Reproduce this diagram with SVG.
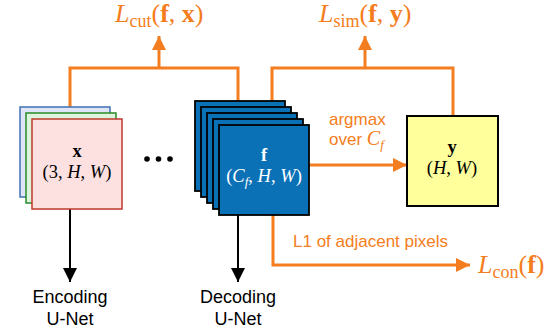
<svg xmlns="http://www.w3.org/2000/svg" width="556" height="333" viewBox="0 0 556 333">
<style>
.or{fill:none;stroke:#f47d20;stroke-width:3}
.bk{fill:none;stroke:#000;stroke-width:2}
.math{font-family:"Liberation Serif","Times New Roman",serif;font-size:18.5px}
.loss{font-family:"Liberation Serif","Times New Roman",serif;font-size:26px;fill:#f47d20}
.sub{font-size:18px}
.lbl{font-family:"Liberation Sans",Arial,sans-serif;font-size:18px}
.olbl{font-family:"Liberation Sans",Arial,sans-serif;font-size:17px;fill:#f47d20}
.fr{fill:#0b71b6;stroke:#000;stroke-width:1.8}
</style>
<defs>
<marker id="ao" markerUnits="userSpaceOnUse" markerWidth="14" markerHeight="14" viewBox="0 0 12 12" refX="12" refY="6" orient="auto">
<path d="M0,0 L12,6 L0,12 Z" fill="#f47d20"/>
</marker>
<marker id="ab" markerUnits="userSpaceOnUse" markerWidth="14" markerHeight="14" viewBox="0 0 12 12" refX="12" refY="6" orient="auto">
<path d="M0,0 L12,6 L0,12 Z" fill="#000"/>
</marker>
</defs>

<g id="connectors">
<path class="or" d="M70,107 V68 H238 V101"/>
<path class="or" d="M159,68 V36" marker-end="url(#ao)"/>
<path class="or" d="M272,101 V68 H453 V116"/>
<path class="or" d="M365,68 V36" marker-end="url(#ao)"/>
<path class="or" d="M309,165 H407" marker-end="url(#ao)"/>
<path class="or" d="M273,215 V265 H470" marker-end="url(#ao)"/>
<path class="bk" d="M70,209 V282" marker-end="url(#ab)"/>
<path class="bk" d="M238,215 V282" marker-end="url(#ab)"/>
</g>

<g id="node-x">
<rect x="20" y="107" width="90" height="90" fill="#dfe5f6" stroke="#3f72b5" stroke-width="1.5"/>
<rect x="26" y="113" width="90" height="90" fill="#dcf5dc" stroke="#2a8a2a" stroke-width="1.5"/>
<rect x="32" y="119" width="90" height="90" fill="#fde1e1" stroke="#c0392b" stroke-width="1.5"/>
<text class="math" x="77" y="157" text-anchor="middle" font-weight="bold">x</text>
<text class="math" x="77" y="178" text-anchor="middle">(3, <tspan font-style="italic">H</tspan>, <tspan font-style="italic">W</tspan>)</text>
</g>

<g id="dots">
<circle cx="147" cy="159" r="2.8"/>
<circle cx="158.5" cy="159" r="2.8"/>
<circle cx="170" cy="159" r="2.8"/>
</g>

<g id="node-f">
<rect class="fr" x="195" y="101" width="90" height="90"/>
<rect class="fr" x="201" y="107" width="90" height="90"/>
<rect class="fr" x="207" y="113" width="90" height="90"/>
<rect class="fr" x="213" y="119" width="90" height="90"/>
<rect class="fr" x="219" y="125" width="90" height="90"/>
<text class="math" x="264" y="161" text-anchor="middle" font-weight="bold" fill="#fff" font-size="19">f</text>
<text class="math" x="264" y="182" text-anchor="middle" fill="#fff">(<tspan font-style="italic">C</tspan><tspan font-style="italic" font-size="13" dy="4">f</tspan><tspan dy="-4">, </tspan><tspan font-style="italic">H</tspan>, <tspan font-style="italic">W</tspan>)</text>
</g>

<g id="node-y">
<rect x="407" y="116" width="91" height="90" fill="#ffff9c" stroke="#000" stroke-width="2"/>
<text class="math" x="452" y="153" text-anchor="middle" font-weight="bold">y</text>
<text class="math" x="452" y="174" text-anchor="middle">(<tspan font-style="italic">H</tspan>, <tspan font-style="italic">W</tspan>)</text>
</g>

<g id="labels">
<text class="loss" x="115" y="22"><tspan font-style="italic">L</tspan><tspan class="sub" dy="5">cut</tspan><tspan dy="-5">(</tspan><tspan font-weight="bold">f</tspan>, <tspan font-weight="bold">x</tspan>)</text>
<text class="loss" x="319" y="22"><tspan font-style="italic">L</tspan><tspan class="sub" dy="5">sim</tspan><tspan dy="-5">(</tspan><tspan font-weight="bold">f</tspan>, <tspan font-weight="bold">y</tspan>)</text>
<text class="loss" x="478" y="273"><tspan font-style="italic">L</tspan><tspan class="sub" dy="5">con</tspan><tspan dy="-5">(</tspan><tspan font-weight="bold">f</tspan>)</text>
<text class="olbl" x="329" y="125">argmax</text>
<text class="olbl" x="329" y="145">over <tspan font-family="Liberation Serif,serif" font-style="italic" font-size="20">C</tspan><tspan font-family="Liberation Serif,serif" font-style="italic" font-size="13" dy="4">f</tspan></text>
<text class="olbl" x="293" y="247">L1 of adjacent pixels</text>
<text class="lbl" x="70" y="303" text-anchor="middle">Encoding</text>
<text class="lbl" x="70" y="325" text-anchor="middle">U-Net</text>
<text class="lbl" x="238" y="303" text-anchor="middle">Decoding</text>
<text class="lbl" x="238" y="325" text-anchor="middle">U-Net</text>
</g>
</svg>
